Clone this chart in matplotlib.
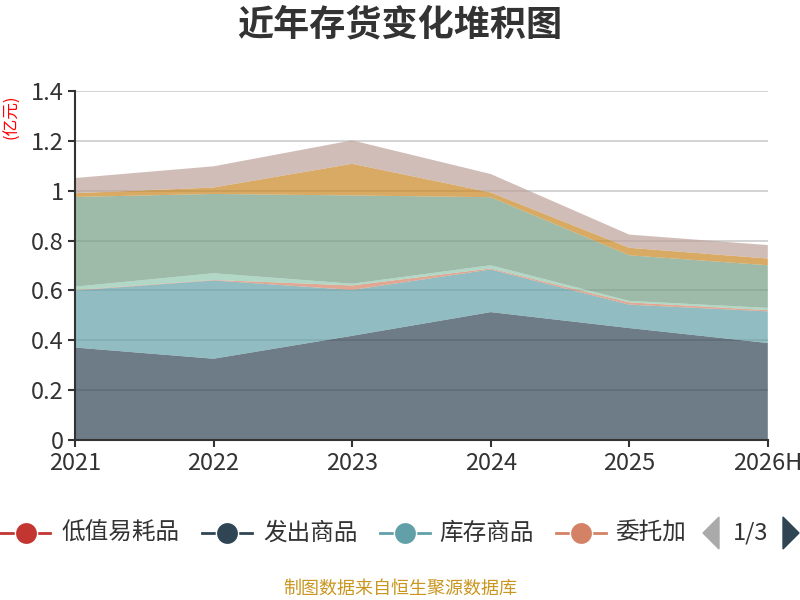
import matplotlib
matplotlib.use("Agg")
import matplotlib.pyplot as plt
from matplotlib.lines import Line2D
from matplotlib.patches import Polygon
import numpy as np

plt.rcParams['font.family'] = ['Noto Sans CJK SC', 'DejaVu Sans']

years = ['2021', '2022', '2023', '2024', '2025', '2026H']
names = ['低值易耗品', '发出商品', '库存商品', '委托加工物资',
         '在产品', '原材料', '周转材料', '半成品']
colors = ['#c23531', '#2f4554', '#61a0a8', '#d48265',
          '#91c7ae', '#749f83', '#ca8622', '#bda29a']

dizhi = [0.001, 0.001, 0.001, 0.001, 0.001, 0.001]
fachu = [0.370, 0.325, 0.417, 0.512, 0.448, 0.388]
kucun = [0.229, 0.314, 0.184, 0.171, 0.094, 0.127]
weituo = [0.002, 0.002, 0.018, 0.004, 0.009, 0.005]
zaichan = [0.013, 0.027, 0.007, 0.013, 0.006, 0.009]
yuancailiao = [0.360, 0.318, 0.354, 0.273, 0.183, 0.171]
zhouzhuan = [0.015, 0.026, 0.127, 0.019, 0.030, 0.027]
banchengpin = [0.061, 0.085, 0.094, 0.074, 0.053, 0.054]

series = [dizhi, fachu, kucun, weituo, zaichan, yuancailiao, zhouzhuan, banchengpin]

fig = plt.figure(figsize=(8, 6), dpi=100)
ax = fig.add_axes([0.09375, 0.2667, 0.866, 0.5816])

x = np.arange(len(years))
ax.stackplot(x, *series, colors=colors, alpha=0.7, linewidth=0, zorder=2)

ax.set_xlim(0, len(years) - 1)
ax.set_ylim(0, 1.4)
yt = np.arange(0, 1.41, 0.2)
ax.set_yticks(yt)
ax.set_yticklabels(['0', '0.2', '0.4', '0.6', '0.8', '1', '1.2', '1.4'])
ax.set_xticks(x)
ax.set_xticklabels(years)
ax.tick_params(axis='both', labelsize=17, colors='#333333', length=5, width=1.5)
ax.tick_params(axis='x', pad=4)
ax.tick_params(axis='y', pad=3)
ax.grid(axis='y', color='#cccccc', linewidth=1.2, zorder=1)
ax.set_axisbelow(True)
for s in ['top', 'right']:
    ax.spines[s].set_visible(False)
for s in ['left', 'bottom']:
    ax.spines[s].set_color('#333333')
    ax.spines[s].set_linewidth(1.5)

fig.text(12 / 800, 1 - 117 / 600, '(亿元)', color='red', fontsize=12, rotation=90,
         ha='center', va='center')

fig.text(0.5, 0.958, '近年存货变化堆积图', fontsize=26, fontweight='bold',
         color='#333333', ha='center', va='center')

# legend (paged, first page)
leg_y = 1 - 533 / 600
leg_items = [(0, 26, 61), (202, 227, 263), (380, 405, 439), (556, 581, 615)]
leg_labels = ['低值易耗品', '发出商品', '库存商品', '委托加']
for i, (x0, cx, tx) in enumerate(leg_items):
    fig.add_artist(Line2D([x0 / 800, (x0 + 50) / 800], [leg_y, leg_y],
                          color=colors[i], linewidth=2, transform=fig.transFigure))
    fig.add_artist(Line2D([cx / 800], [leg_y], marker='o', markersize=16,
                          color=colors[i], markeredgecolor='white',
                          markeredgewidth=1, transform=fig.transFigure))
    fig.text(tx / 800, leg_y, leg_labels[i], fontsize=17, color='#333333',
             ha='left', va='center')

fig.add_artist(Polygon([[719 / 800, leg_y + 16 / 600], [719 / 800, leg_y - 16 / 600],
                        [703 / 800, leg_y]], closed=True, color='#aaaaaa',
                       transform=fig.transFigure))
fig.text(751 / 800, leg_y, '1/3', fontsize=17, color='#333333', ha='center', va='center')
fig.add_artist(Polygon([[783 / 800, leg_y + 16 / 600], [783 / 800, leg_y - 16 / 600],
                        [799 / 800, leg_y]], closed=True, color='#2f4554',
                       transform=fig.transFigure))

fig.text(0.5, 1 - 589 / 600, '制图数据来自恒生聚源数据库', fontsize=13,
         color='#c9961f', ha='center', va='center')

fig.savefig('out.png', dpi=100)
